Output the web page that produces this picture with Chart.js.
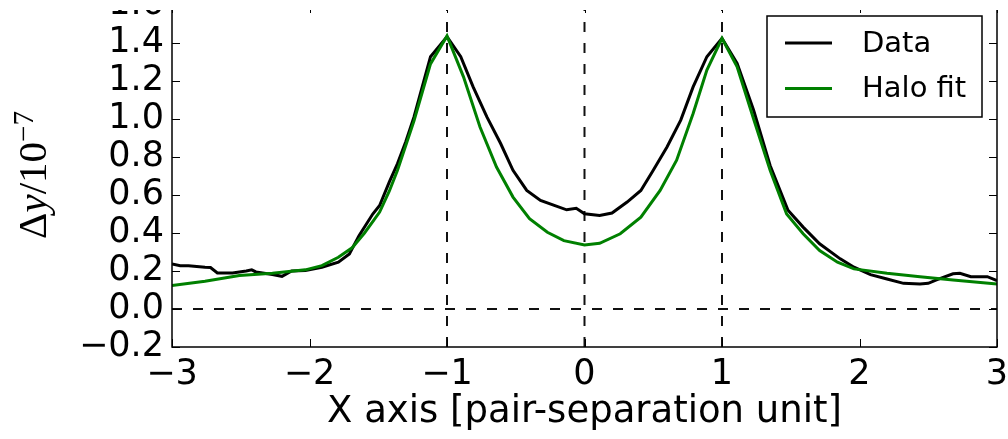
<!DOCTYPE html>
<html>
<head>
<meta charset="utf-8">
<script src="https://cdn.jsdelivr.net/npm/chart.js@4.4.1/dist/chart.umd.min.js"></script>
<style>
html, body { margin: 0; padding: 0; background: #fff; }
#wrap { width: 1008px; height: 439px; }
</style>
</head>
<body>
<div id="wrap"><canvas id="myChart"></canvas></div>
<script>
// measured "Data" curve
var dataX = [-3.00, -2.94, -2.88, -2.76, -2.72, -2.67, -2.56, -2.46, -2.42, -2.39, -2.27, -2.20, -2.13, -2.03,
    -1.91, -1.79, -1.71, -1.64, -1.54, -1.49, -1.42, -1.36, -1.30, -1.24, -1.12, -1.00, -0.90, -0.81, -0.71,
    -0.61, -0.52, -0.42, -0.32, -0.22, -0.13, -0.06, 0.00, 0.11, 0.20, 0.31, 0.41, 0.50, 0.60, 0.70, 0.79,
    0.89, 1.00, 1.11, 1.23, 1.35, 1.48, 1.59, 1.71, 1.86, 1.96, 2.08, 2.20, 2.32, 2.44, 2.50, 2.56, 2.68,
    2.73, 2.81, 2.93, 3.00];
var dataY = [0.237, 0.228, 0.228, 0.220, 0.218, 0.190, 0.190, 0.200, 0.206, 0.195, 0.182, 0.172, 0.200, 0.203,
    0.220, 0.246, 0.290, 0.386, 0.500, 0.545, 0.668, 0.765, 0.880, 1.011, 1.328, 1.433, 1.328, 1.169, 1.011,
    0.871, 0.730, 0.624, 0.571, 0.545, 0.522, 0.530, 0.501, 0.492, 0.505, 0.563, 0.624, 0.730, 0.853, 0.994, 1.169,
    1.328, 1.425, 1.293, 1.046, 0.755, 0.520, 0.431, 0.343, 0.264, 0.220, 0.181, 0.158, 0.135, 0.132, 0.135, 0.153, 0.185,
    0.188, 0.170, 0.170, 0.149];

// halo fit curve
var fitX = [-3.00, -2.76, -2.51, -2.27, -2.03, -1.91, -1.79, -1.69, -1.60, -1.54, -1.49, -1.42, -1.36, -1.24, -1.12,
    -1.00, -0.88, -0.76, -0.64, -0.52, -0.40, -0.27, -0.15, 0.00, 0.11, 0.26, 0.41, 0.55, 0.67, 0.79, 0.89,
    1.00, 1.11, 1.23, 1.35, 1.47, 1.59, 1.71, 1.84, 1.96, 2.20, 2.44, 2.68, 3.00];
var fitY = [0.123, 0.146, 0.176, 0.188, 0.206, 0.228, 0.272, 0.322, 0.400, 0.460, 0.510, 0.620, 0.730, 0.990, 1.290,
    1.437, 1.222, 0.958, 0.747, 0.589, 0.475, 0.404, 0.360, 0.337, 0.346, 0.396, 0.483, 0.624, 0.783, 1.029, 1.258,
    1.425, 1.275, 1.000, 0.730, 0.500, 0.396, 0.308, 0.246, 0.211, 0.188, 0.170, 0.153, 0.132];

var refX = [-1, 0, 1];   // dashed vertical lines
var refY = [0];          // dashed horizontal line
var xTicks = [-3, -2, -1, 0, 1, 2, 3];
var yTicks = [-0.2, 0.0, 0.2, 0.4, 0.6, 0.8, 1.0, 1.2, 1.4, 1.6];
var seriesNames = ["Data", "Halo fit"];

var xMin = xTicks[0], xMax = xTicks[xTicks.length - 1];
var yMin = yTicks[0], yMax = yTicks[yTicks.length - 1];

function toPoints(xs, ys) {
    return xs.map((x, i) => ({ x: x, y: ys[i] }));
}

var datasets = [{
    label: seriesNames[0],
    data: toPoints(dataX, dataY),
    borderColor: '#000000',
    borderWidth: 3,
    order: 2
}, {
    label: seriesNames[1],
    data: toPoints(fitX, fitY),
    borderColor: '#008000',
    borderWidth: 3,
    order: 1
}];
refX.forEach(v => datasets.push({
    data: [{ x: v, y: yMin }, { x: v, y: yMax }],
    borderColor: '#111', borderWidth: 2, borderDash: [10, 11], order: 3
}));
refY.forEach(v => datasets.push({
    data: [{ x: xMin, y: v }, { x: xMax, y: v }],
    borderColor: '#111', borderWidth: 2, borderDash: [10, 11], order: 3
}));

var tickFont = { family: 'DejaVu Sans', size: 35, lineHeight: 1.2 };

// frame + inward ticks (matplotlib classic look)
var framePlugin = {
    id: 'frame',
    afterDatasetsDraw(chart) {
        var ctx = chart.ctx, a = chart.chartArea;
        var xs = chart.scales.x, ys = chart.scales.y;
        ctx.save();
        ctx.strokeStyle = '#000';
        ctx.lineWidth = 1;
        xTicks.forEach(v => {
            var px = Math.round(xs.getPixelForValue(v)) + 0.5;
            ctx.beginPath();
            ctx.moveTo(px, a.bottom); ctx.lineTo(px, a.bottom - 8);
            ctx.moveTo(px, a.top); ctx.lineTo(px, a.top + 8);
            ctx.stroke();
        });
        yTicks.forEach(v => {
            var py = Math.round(ys.getPixelForValue(v)) + 0.5;
            ctx.beginPath();
            ctx.moveTo(a.left, py); ctx.lineTo(a.left + 8, py);
            ctx.moveTo(a.right, py); ctx.lineTo(a.right - 8, py);
            ctx.stroke();
        });
        ctx.lineWidth = 1.5;
        ctx.strokeRect(a.left, a.top, a.right - a.left, a.bottom - a.top);
        ctx.restore();
    },
    afterDraw(chart) {
        var ctx = chart.ctx;
        ctx.save();
        // top of the original figure is cut off
        ctx.fillStyle = '#fff';
        ctx.fillRect(0, 0, chart.width, 10);

        // legend box
        ctx.fillStyle = '#fff';
        ctx.fillRect(767, 16, 215, 101);
        ctx.strokeStyle = '#000';
        ctx.lineWidth = 1.5;
        ctx.strokeRect(767, 16, 215, 101);
        ctx.font = '29px "DejaVu Sans"';
        ctx.textBaseline = 'middle';
        ctx.textAlign = 'left';
        chart.data.datasets.filter(d => d.label).forEach((d, i) => {
            var y = 43 + i * 45.5;
            ctx.strokeStyle = d.borderColor;
            ctx.lineWidth = 3;
            ctx.beginPath();
            ctx.moveTo(785, y); ctx.lineTo(832, y);
            ctx.stroke();
            ctx.fillStyle = '#000';
            ctx.fillText(d.label, 862, y + 1);
        });

        // y axis title: Δy/10^-7
        var parts = [
            { t: 'Δ', f: '41px "Liberation Serif"', rise: 0 },
            { t: 'y', f: 'italic 41px "Liberation Serif"', rise: 0 },
            { t: '/10', f: '41px "Liberation Serif"', rise: 0 },
            { t: '−7', f: '29px "Liberation Serif"', rise: 13 }
        ];
        var total = 0;
        parts.forEach(p => { ctx.font = p.f; p.w = ctx.measureText(p.t).width; total += p.w; });
        ctx.translate(46, 175);
        ctx.rotate(-Math.PI / 2);
        ctx.fillStyle = '#000';
        ctx.textBaseline = 'alphabetic';
        var x = -total / 2;
        parts.forEach(p => {
            ctx.font = p.f;
            ctx.fillText(p.t, x, -p.rise);
            x += p.w;
        });
        ctx.restore();
    }
};

var ctx = document.getElementById('myChart').getContext('2d');
var chart = new Chart(ctx, {
    type: 'scatter',
    data: { datasets: datasets },
    options: {
        responsive: true,
        maintainAspectRatio: false,
        animation: false,
        layout: { padding: { top: 5, right: 11, bottom: 0, left: 0 } },
        elements: {
            point: { radius: 0, hoverRadius: 0 },
            line: { tension: 0, fill: false }
        },
        datasets: { scatter: { showLine: true } },
        plugins: {
            legend: { display: false },
            tooltip: { enabled: false }
        },
        scales: {
            x: {
                type: 'linear',
                min: xMin, max: xMax,
                afterBuildTicks: s => { s.ticks = xTicks.map(v => ({ value: v })); },
                afterFit: s => { s.height = 92; s.paddingLeft = 0; s.paddingRight = 0; },
                grid: { display: false, drawTicks: false },
                border: { display: false },
                ticks: {
                    font: tickFont, color: '#000', padding: 7, maxRotation: 0, autoSkip: false,
                    callback: v => String(v).replace('-', '\u2212')
                },
                title: {
                    display: true,
                    text: 'X axis [pair-separation unit]',
                    font: { family: 'DejaVu Sans', size: 37, lineHeight: 1.2 },
                    color: '#000',
                    padding: { top: 0, bottom: 4 }
                }
            },
            y: {
                type: 'linear',
                min: yMin, max: yMax,
                afterBuildTicks: s => { s.ticks = yTicks.map(v => ({ value: v })); },
                afterFit: s => { s.width = 172; s.paddingTop = 0; s.paddingBottom = 0; },
                grid: { display: false, drawTicks: false },
                border: { display: false },
                ticks: {
                    font: tickFont, color: '#000', padding: 8, autoSkip: false,
                    callback: v => (Math.abs(v) < 1e-9 ? 0 : v).toFixed(1).replace('-', '\u2212')
                }
            }
        }
    },
    plugins: [framePlugin]
});
</script>
</body>
</html>
